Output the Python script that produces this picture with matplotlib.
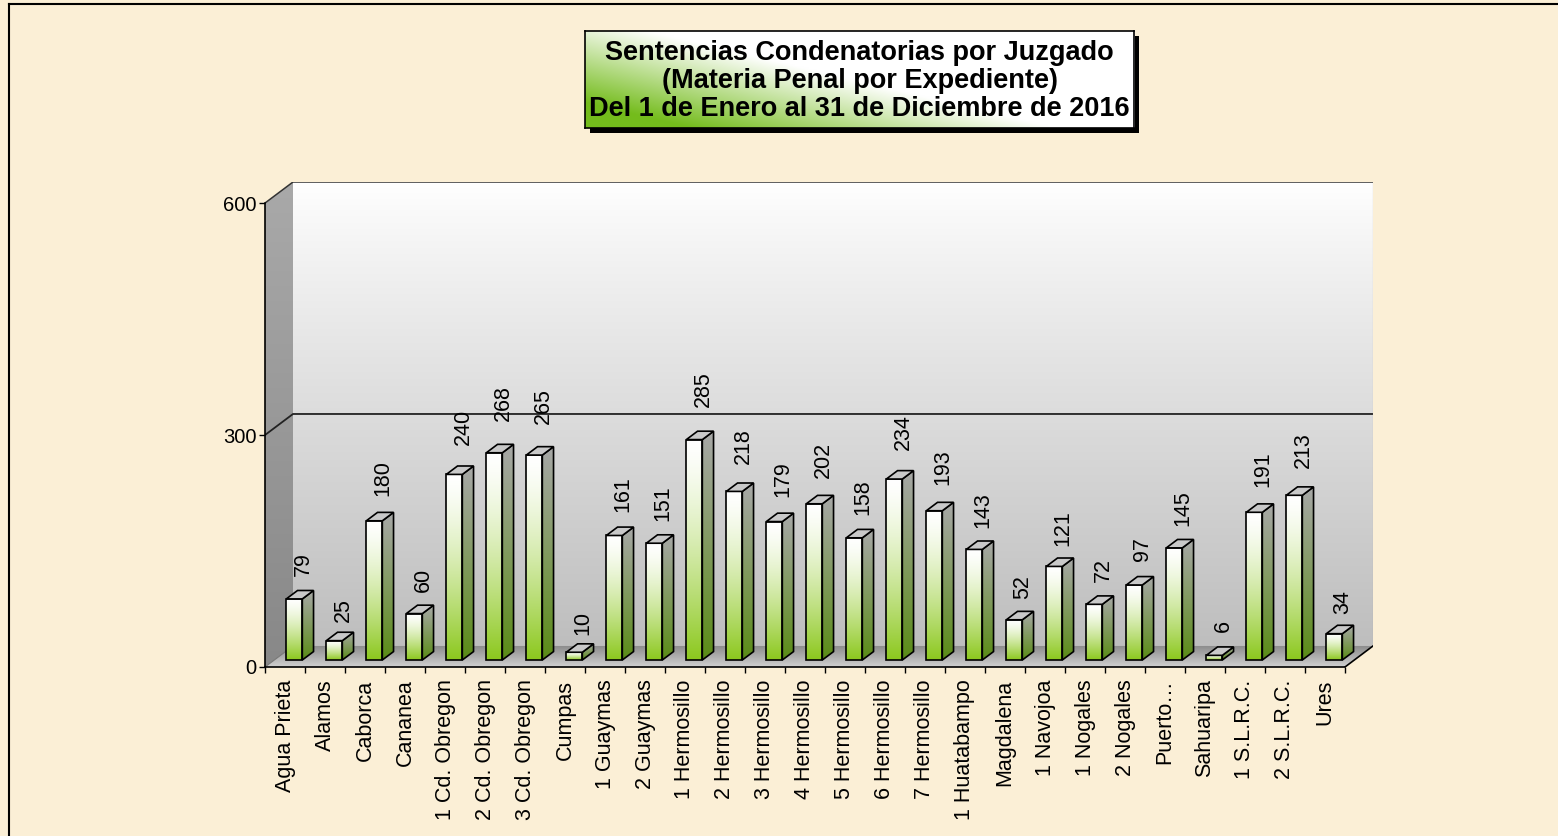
import numpy as np
import matplotlib
matplotlib.use('Agg')
import matplotlib.pyplot as plt
from matplotlib.patches import Polygon, Rectangle
from matplotlib.lines import Line2D
from matplotlib.colors import to_rgb

plt.rcParams['font.family'] = ['Liberation Sans', 'DejaVu Sans']

# datos
juzgados = ['Agua Prieta', 'Alamos', 'Caborca', 'Cananea', '1 Cd. Obregon',
            '2 Cd. Obregon', '3 Cd. Obregon', 'Cumpas', '1 Guaymas', '2 Guaymas',
            '1 Hermosillo', '2 Hermosillo', '3 Hermosillo', '4 Hermosillo',
            '5 Hermosillo', '6 Hermosillo', '7 Hermosillo', '1 Huatabampo',
            'Magdalena', '1 Navojoa', '1 Nogales', '2 Nogales', 'Puerto…',
            'Sahuaripa', '1 S.L.R.C.', '2 S.L.R.C.', 'Ures']
sentencias = [79, 25, 180, 60, 240, 268, 265, 10, 161, 151, 285, 218, 179, 202,
              158, 234, 193, 143, 52, 121, 72, 97, 145, 6, 191, 213, 34]
yticks = [0, 300, 600]
titulo = ('Sentencias Condenatorias por Juzgado\n'
          '(Materia Penal por Expediente)\n'
          'Del 1 de Enero al 31 de Diciembre de 2016')

W, H = 1558, 836
fig = plt.figure(figsize=(W / 100, H / 100), dpi=100, facecolor='#FBEFD6')

n = len(sentencias)
DX, DY = 0.7, 27.2          # profundidad del "3D"
ymax = yticks[-1]

ax = fig.add_axes([265 / W, 169 / H, 1108 / W, 485 / H])
ax.patch.set_visible(False)


def vgrad(top, bottom, steps=128, gamma=1.0):
    t = np.linspace(0, 1, steps) ** gamma
    a, b = np.array(to_rgb(top)), np.array(to_rgb(bottom))
    return (a[None, :] * (1 - t[:, None]) + b[None, :] * t[:, None])[:, None, :]


def fill(verts, img, z, ec='none', lw=0):
    xs = [v[0] for v in verts]
    ys = [v[1] for v in verts]
    poly = Polygon(verts, closed=True, transform=ax.transData,
                   facecolor='none', edgecolor=ec, lw=lw, zorder=z + 0.5)
    ax.add_patch(poly)
    im = ax.imshow(img, extent=[min(xs), max(xs), min(ys), max(ys)],
                   aspect='auto', origin='upper', zorder=z, interpolation='bilinear')
    im.set_clip_path(poly)
    return poly


# paredes y piso
fill([(DX, DY), (n + DX, DY), (n + DX, ymax + DY), (DX, ymax + DY)],
     vgrad('#FFFFFF', '#BEBEBE', gamma=0.9), 1)
fill([(0, 0), (DX, DY), (DX, ymax + DY), (0, ymax)],
     vgrad('#A9A9A9', '#888888'), 1)
fill([(0, 0), (n, 0), (n + DX, DY), (DX, DY)],
     vgrad('#8A8A8A', '#D0D0D0'), 1)

# lineas de la caja
ax.plot([0, DX, n + DX], [300, 300 + DY, 300 + DY], color='#222222', lw=1.3, zorder=2)
ax.plot([0, DX, n + DX], [ymax, ymax + DY, ymax + DY], color='#333333', lw=1.1, zorder=2)
ax.plot([n + DX, n + DX], [DY, ymax + DY], color='#9A9A9A', lw=0.8, zorder=2)
ax.plot([n, n + DX], [0, DY], color='black', lw=1.2, zorder=2)
ax.plot([0, DX], [0, DY], color='#777777', lw=0.8, zorder=2)

# barras
w = 0.4
fx, fy = DX / 3, DY / 3
ex, ey = DX * 0.4, DY * 0.4
for i, v in enumerate(sentencias):
    x0 = i + 0.5 - w / 2 + fx
    fill([(x0, fy), (x0 + w, fy), (x0 + w, fy + v), (x0, fy + v)],
         vgrad('#FFFFFF', '#8CC81E', gamma=1.4), 5, ec='black', lw=1.2)
    fill([(x0 + w, fy), (x0 + w + ex, fy + ey), (x0 + w + ex, fy + ey + v), (x0 + w, fy + v)],
         vgrad('#A8A8A8', '#5A8C16'), 5, ec='black', lw=1.2)
    ax.add_patch(Polygon([(x0, fy + v), (x0 + w, fy + v), (x0 + w + ex, fy + v + ey),
                          (x0 + ex, fy + v + ey)], closed=True, facecolor='#C9C9C9',
                         edgecolor='black', lw=1.2, zorder=6))
    ax.text(i + 0.95, 1.1 * v + 46, str(v), rotation=90, ha='center', va='center',
            fontsize=15.5, zorder=7)

ax.set_xlim(0, n + DX)
ax.set_ylim(0, ymax + DY)
for s in ['top', 'right']:
    ax.spines[s].set_visible(False)
ax.spines['left'].set_bounds(0, ymax)
ax.spines['bottom'].set_bounds(0, n)
ax.spines['left'].set_linewidth(1.2)
ax.spines['bottom'].set_linewidth(1.2)
ax.spines['left'].set_zorder(3)
ax.spines['bottom'].set_zorder(3)

ax.set_yticks(yticks)
ax.tick_params(axis='y', length=4, width=1, pad=2, labelsize=14.5)
ax.set_xticks(np.arange(n) + 0.5)
ax.set_xticklabels(juzgados, rotation=90)
ax.tick_params(axis='x', which='major', length=0, pad=9, labelsize=15.5)
ax.set_xticks(np.arange(n + 1), minor=True)
ax.tick_params(axis='x', which='minor', length=4, width=1)

# marco de la imagen
fig.add_artist(Line2D([9 / W, 1], [1 - 4 / H, 1 - 4 / H], transform=fig.transFigure,
                      color='black', lw=1.5))
fig.add_artist(Line2D([9 / W, 9 / W], [0, 1 - 4 / H], transform=fig.transFigure,
                      color='black', lw=1.5))

# titulo
bx, by, bw, bh = 585, 31, 549, 97
fig.add_artist(Rectangle(((bx + 5) / W, 1 - (by + bh + 5) / H), bw / W, bh / H,
                         transform=fig.transFigure, facecolor='black', zorder=-1))
tax = fig.add_axes([bx / W, 1 - (by + bh) / H, bw / W, bh / H])
uu, vv = np.meshgrid(np.linspace(0, 1, 200), np.linspace(0, 1, 60))
s = np.clip(1.5 * (0.45 - uu) + 1.1 * (0.55 - vv), 0, 1)[..., None]
verde = np.array(to_rgb('#74BC1C'))
img = (1 - s) * np.ones(3) + s * verde
tax.imshow(img, extent=[0, 1, 0, 1], aspect='auto', origin='lower', interpolation='bilinear')
tax.set_xticks([])
tax.set_yticks([])
for sp in tax.spines.values():
    sp.set_linewidth(1.2)
tax.text(0.5, 0.48, titulo, ha='center', va='center', fontsize=19.5, fontweight='bold',
         linespacing=1.1, transform=tax.transAxes)

fig.savefig('out.png', dpi=100, facecolor=fig.get_facecolor())
